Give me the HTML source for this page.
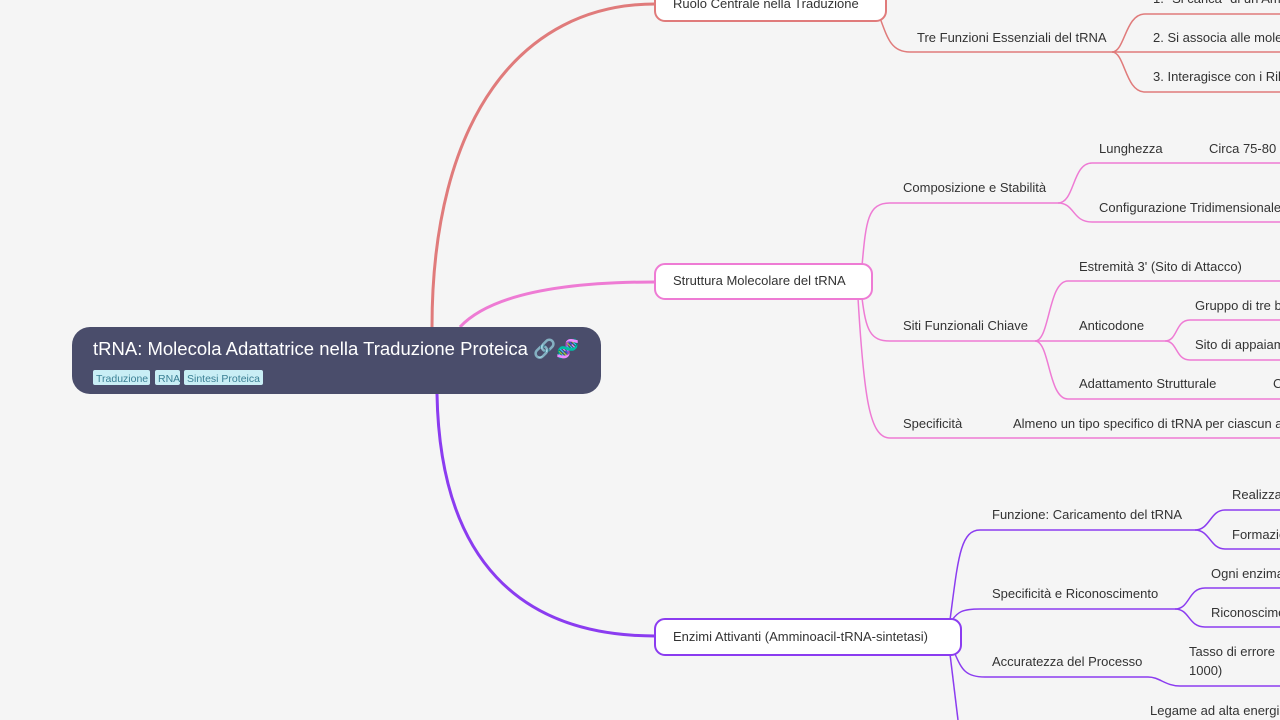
<!DOCTYPE html>
<html><head><meta charset="utf-8"><style>
html,body{margin:0;padding:0;background:#f5f5f5;}
svg{display:block;font-family:"Liberation Sans",sans-serif;}
text{font-size:13px;fill:#333;}
</style></head><body>
<svg width="1280" height="720" viewBox="0 0 1280 720" xmlns="http://www.w3.org/2000/svg">
<rect width="1280" height="720" fill="#f5f5f5"/>
<g fill="none" stroke-width="3">
<path d="M432 327 C432 120 520 4 655 4" stroke="#e07b7b"/>
<path d="M460 327 C490 295 560 282 655 282" stroke="#ee7bd4"/>
<path d="M437 394 C440 560 520 636 655 636" stroke="#8b3cf0"/>
</g>
<g fill="none" stroke-width="1.5" stroke="#e07b7b">
<path d="M880 18 C888 40 892 52 910 52 L1112 52"/>
<path d="M1112 52 C1125 52 1125 14 1145 14 L1280 14"/>
<path d="M1112 52 L1280 52"/>
<path d="M1112 52 C1125 52 1125 92 1145 92 L1280 92"/>
</g>
<g fill="none" stroke-width="1.5" stroke="#ee7bd4">
<path d="M862 266 C866 220 868 203 890 203 L1058 203"/>
<path d="M1058 203 C1075 203 1072 163 1092 163 L1280 163"/>
<path d="M1058 203 C1075 203 1072 222 1092 222 L1280 222"/>
<path d="M862 298 C866 330 870 341 890 341 L1035 341"/>
<path d="M1035 341 C1050 341 1048 281 1068 281 L1280 281"/>
<path d="M1035 341 L1165 341"/>
<path d="M1165 341 C1178 341 1175 320 1190 320 L1280 320"/>
<path d="M1165 341 C1178 341 1175 360 1190 360 L1280 360"/>
<path d="M1035 341 C1050 341 1048 399 1068 399 L1280 399"/>
<path d="M858 298 C864 400 870 438 890 438 L1280 438"/>
</g>
<g fill="none" stroke-width="1.5" stroke="#8b3cf0">
<path d="M950 620 C958 560 960 530 980 530 L1195 530"/>
<path d="M1195 530 C1210 530 1210 510 1225 510 L1280 510"/>
<path d="M1195 530 C1210 530 1210 549 1225 549 L1280 549"/>
<path d="M952 620 C958 612 962 609 980 609 L1175 609"/>
<path d="M1175 609 C1190 609 1188 588 1205 588 L1280 588"/>
<path d="M1175 609 C1190 609 1188 627 1205 627 L1280 627"/>
<path d="M955 654 C962 670 966 677 985 677 L1148 677 C1160 677 1165 686 1180 686 L1280 686"/>
<path d="M950 654 L958 720"/>
</g>
<rect x="72" y="327" width="529" height="67" rx="18" fill="#4a4d6b"/>
<text x="93" y="355" style="font-size:18.5px;fill:#fff">tRNA: Molecola Adattatrice nella Traduzione Proteica 🔗🧬</text>
<g style="font-size:10.5px">
<rect x="93" y="370" width="57" height="15" rx="2" fill="#c9eef5"/><text x="96" y="382" style="font-size:10.5px;fill:#3a7f94">Traduzione</text>
<rect x="155" y="370" width="25" height="15" rx="2" fill="#c9eef5"/><text x="158" y="382" style="font-size:10.5px;fill:#3a7f94">RNA</text>
<rect x="184" y="370" width="79" height="15" rx="2" fill="#c9eef5"/><text x="187" y="382" style="font-size:10.5px;fill:#3a7f94">Sintesi Proteica</text>
</g>
<rect x="655" y="-14" width="231" height="35" rx="10" fill="#fff" stroke="#e07b7b" stroke-width="2"/>
<text x="673" y="8">Ruolo Centrale nella Traduzione</text>
<rect x="655" y="264" width="217" height="35" rx="10" fill="#fff" stroke="#ee7bd4" stroke-width="2"/>
<text x="673" y="285">Struttura Molecolare del tRNA</text>
<rect x="655" y="619" width="306" height="36" rx="10" fill="#fff" stroke="#8b3cf0" stroke-width="2"/>
<text x="673" y="641">Enzimi Attivanti (Amminoacil-tRNA-sintetasi)</text>
<text x="917" y="42">Tre Funzioni Essenziali del tRNA</text>
<text x="1153" y="3">1. "Si carica" di un Amminoacido</text>
<text x="1153" y="42">2. Si associa alle molecole di mRNA</text>
<text x="1153" y="81">3. Interagisce con i Ribosomi</text>
<text x="903" y="192">Composizione e Stabilità</text>
<text x="1099" y="153">Lunghezza</text>
<text x="1209" y="153">Circa 75-80 nucleotidi</text>
<text x="1099" y="212">Configurazione Tridimensionale</text>
<text x="903" y="330">Siti Funzionali Chiave</text>
<text x="1079" y="271">Estremità 3' (Sito di Attacco)</text>
<text x="1079" y="330">Anticodone</text>
<text x="1195" y="310">Gruppo di tre basi</text>
<text x="1195" y="349">Sito di appaiamento</text>
<text x="1079" y="388">Adattamento Strutturale</text>
<text x="1273" y="388">C</text>
<text x="903" y="428">Specificità</text>
<text x="1013" y="428">Almeno un tipo specifico di tRNA per ciascun amminoacido</text>
<text x="992" y="519">Funzione: Caricamento del tRNA</text>
<text x="1232" y="499">Realizzazione</text>
<text x="1232" y="539">Formazione</text>
<text x="992" y="598">Specificità e Riconoscimento</text>
<text x="1211" y="578">Ogni enzima</text>
<text x="1211" y="617">Riconoscimento</text>
<text x="992" y="666">Accuratezza del Processo</text>
<text x="1189" y="656">Tasso di errore</text>
<text x="1189" y="675">1000)</text>
<text x="1150" y="715">Legame ad alta energia</text>
</svg>
</body></html>
